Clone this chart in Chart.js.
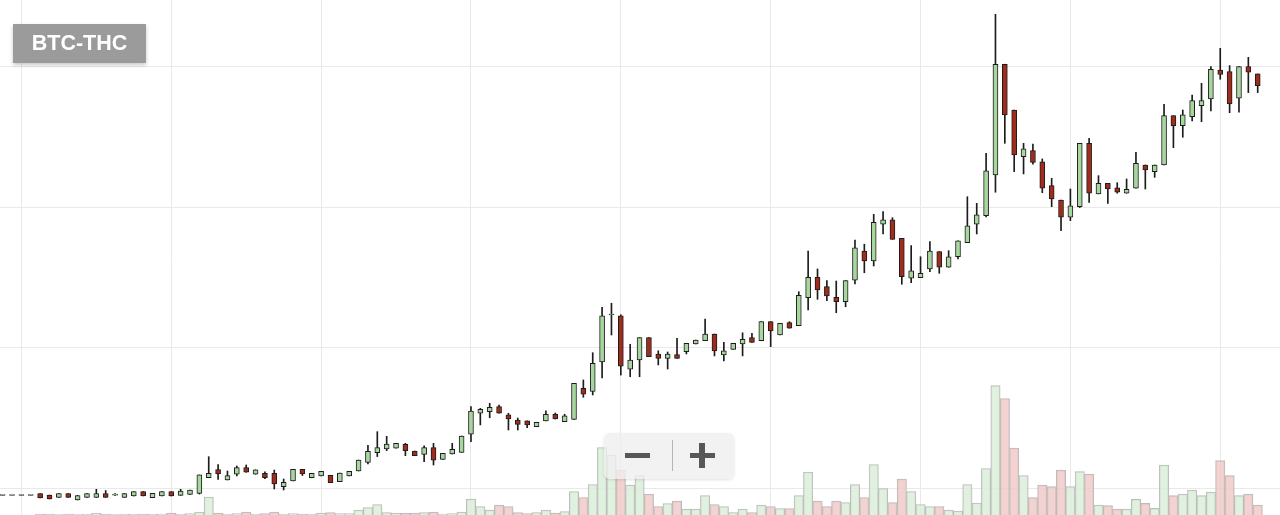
<!DOCTYPE html>
<html><head><meta charset="utf-8">
<script src="https://cdn.jsdelivr.net/npm/chart.js@4.4.1/dist/chart.umd.min.js"></script>
<style>
html,body{margin:0;padding:0;background:#fff;overflow:hidden}
#wrap{position:relative;width:1280px;height:515px;background:#fff}
canvas{display:block}
#sym{position:absolute;left:13px;top:24px;width:133px;height:39px;background:#9b9b9b;color:#fff;
  font:bold 21.5px "Liberation Sans",Arial,sans-serif;line-height:39px;text-align:center;
  box-shadow:0 2px 4px rgba(0,0,0,0.22)}
#zoomctl{position:absolute;left:604px;top:433px;width:130px;height:46px;border-radius:6px;
  background:rgba(238,238,238,0.78);box-shadow:0 1px 3px rgba(0,0,0,0.12)}
#zoomctl span{position:absolute;display:block;background:#575757}
#zoomctl .m{left:21px;top:19.5px;width:25px;height:5.5px}
#zoomctl .d{left:67.5px;top:7px;width:1.5px;height:31px;background:#b5b5b5}
#zoomctl .ph{left:85.5px;top:19.5px;width:25px;height:5.5px}
#zoomctl .pv{left:95px;top:9.5px;width:5.5px;height:25px}
</style></head><body>
<div id="wrap">
<canvas id="c" width="1280" height="515"></canvas>
<div id="sym">BTC-THC</div>
<div id="zoomctl" aria-label="zoom"><span class="m"></span><span class="d"></span><span class="ph"></span><span class="pv"></span></div>
</div>
<script>
// price values (satoshi), one entry per session
const opens = [949,949,949,949,963,952,935,963,917,935,935,963,952,935,945,976,933,945,976,950,957,964,
1075,1134,1059,1100,1147,1100,1107,1107,1011,1052,1135,1075,1088,1093,1047,1088,1123,1184,1253,1280,1285,1313,1265,1242,1289,1206,1244,1256,
1386,1534,1545,1581,1522,1486,1481,1438,1479,1527,1474,1491,1712,1689,1899,2233,2228,1847,1913,2072,1956,1925,1951,1972,2027,2050,2098,1949,1989,2027,2072,2050,2186,2091,2179,2157,
2357,2502,2435,2359,2328,2482,2689,2618,2879,2910,2779,2495,2499,2561,2684,2573,2648,2748,2879,2940,3230,4018,3692,3360,3403,3324,3154,3052,2929,3004,3455,3095,3171,3139,3100,3135,3301,3253,3301,3652,3581,3645,3723,3771,3977,3965,3776,4001,3949];
const highs = [949,949,949,949,963,952,963,963,949,963,993,984,963,963,976,976,964,976,976,993,988,1095,
1225,1169,1123,1159,1166,1132,1118,1130,1066,1135,1135,1107,1121,1093,1109,1121,1201,1306,1403,1370,1320,1320,1265,1303,1320,1249,1320,1372,
1581,1569,1605,1593,1534,1500,1481,1470,1552,1536,1527,1747,1771,1965,2287,2317,2235,2025,2072,2072,1979,1970,2068,2032,2055,2205,2098,2039,2032,2107,2103,2186,2186,2174,2186,2399,
2689,2561,2478,2475,2478,2767,2737,2950,2969,2926,2779,2727,2648,2755,2684,2691,2762,3075,3028,3384,4373,4018,3692,3455,3450,3344,3206,3052,3130,3455,3491,3225,3171,3175,3201,3391,3301,3301,3733,3652,3692,3799,3882,4001,4131,4008,4001,4067,3949];
const lows = [949,949,949,949,931,924,935,935,917,935,935,935,949,935,945,945,933,945,945,950,957,959,
1075,1063,1059,1088,1114,1100,1068,995,988,1052,1091,1075,1088,1040,1047,1088,1123,1173,1226,1268,1285,1232,1232,1189,1166,1206,1244,1256,
1332,1451,1502,1534,1415,1415,1431,1438,1479,1493,1474,1491,1648,1664,1785,2091,1806,1794,1794,1937,1878,1849,1925,1956,2027,2050,1942,1906,1989,1942,2039,2050,2008,2091,2139,2157,
2269,2345,2335,2250,2292,2454,2534,2582,2810,2772,2452,2463,2499,2542,2530,2573,2632,2748,2810,2931,3107,3455,3253,3237,3306,3104,3004,2833,2905,2998,3035,3095,3028,3100,3100,3135,3130,3213,3301,3424,3498,3614,3609,3685,3911,3673,3676,3816,3816];
const closes = [949,949,949,949,931,924,963,935,949,963,963,935,953,963,976,945,964,976,945,981,988,1095,
1107,1102,1090,1147,1114,1132,1075,1031,1043,1135,1102,1107,1121,1040,1109,1121,1201,1263,1289,1315,1320,1268,1232,1289,1201,1249,1278,1372,
1550,1562,1576,1534,1493,1455,1451,1470,1527,1493,1515,1747,1669,1890,2228,2235,1870,1913,2072,1937,1925,1956,1925,2032,2055,2098,1977,1979,2032,2060,2039,2186,2120,2174,2139,2374,
2502,2411,2369,2328,2478,2712,2618,2893,2910,2772,2506,2547,2530,2689,2573,2648,2762,2867,2947,3260,4018,3657,3372,3415,3320,3135,3059,2929,3011,3455,3100,3171,3130,3107,3128,3313,3265,3301,3652,3581,3657,3759,3759,3982,3946,3735,4001,3961,3865];
const volumes = [0,0,0,0,10,10,5,10,5,10,20,10,5,10,10,10,10,10,20,10,15,30,
180,20,10,15,30,10,15,30,10,15,10,10,20,25,15,15,50,75,105,25,20,20,20,25,30,10,15,30,
160,85,50,100,85,25,15,25,50,20,35,235,175,305,675,600,450,300,395,210,85,115,140,60,60,195,105,85,25,60,25,100,85,65,65,195,
430,140,85,140,125,305,175,505,265,125,360,235,105,85,85,50,40,305,120,465,1293,1165,670,395,173,300,283,450,283,433,410,100,93,60,60,157,117,67,500,193,210,250,193,230,543,393,193,210,100];
// grid positions (value axes)
const gridPrices = [1000, 2000, 3000, 4000];
const gridSessions = [2, 18, 34, 50, 66, 82, 98, 114, 130];

const sessions = opens.map((_, i) => i);
const isUp = i => closes[i] >= opens[i];
const GREEN = '#a8d69f', RED = '#a02c1c', EDGE = '#1c1c1c';

new Chart(document.getElementById('c'), {
  type: 'bar',
  data: {
    datasets: [
      {
        label: 'body', order: 0, yAxisID: 'y', grouped: false,
        data: sessions.map(i => ({x: i, y: [opens[i], closes[i]]})),
        barThickness: 5, minBarLength: 1,
        backgroundColor: sessions.map(i => isUp(i) ? GREEN : RED),
        borderColor: EDGE, borderWidth: 1, borderSkipped: false
      },
      {
        label: 'wick', order: 1, yAxisID: 'y', grouped: false,
        data: sessions.map(i => ({x: i, y: [lows[i], highs[i]]})),
        barThickness: 1, backgroundColor: EDGE, borderWidth: 0
      },
      {
        label: 'volume', order: 2, yAxisID: 'yv', grouped: false,
        data: sessions.map(i => ({x: i, y: volumes[i]})),
        barPercentage: 1, categoryPercentage: 1,
        backgroundColor: sessions.map(i => isUp(i) ? 'rgba(218,238,215,0.8)' : 'rgba(240,200,197,0.8)'),
        borderColor: '#bcbcbc', borderWidth: 1, borderSkipped: 'bottom'
      }
    ]
  },
  options: {
    responsive: false, animation: false, events: [],
    layout: {padding: 0},
    plugins: {legend: {display: false}, tooltip: {enabled: false}},
    scales: {
      x: {
        type: 'linear', min: -0.285, max: 136.38, offset: false,
        grid: {color: '#e9e9e9', drawTicks: false, offset: false},
        border: {display: false}, ticks: {display: false},
        afterBuildTicks: s => { s.ticks = gridSessions.map(v => ({value: v})); }
      },
      y: {
        type: 'linear', position: 'left', min: 810, max: 4475,
        grid: {color: '#e9e9e9', drawTicks: false},
        border: {display: false}, ticks: {display: false},
        afterBuildTicks: s => { s.ticks = gridPrices.map(v => ({value: v})); }
      },
      yv: {type: 'linear', display: false, min: 0, max: 5150}
    }
  }
});
</script>
</body></html>
